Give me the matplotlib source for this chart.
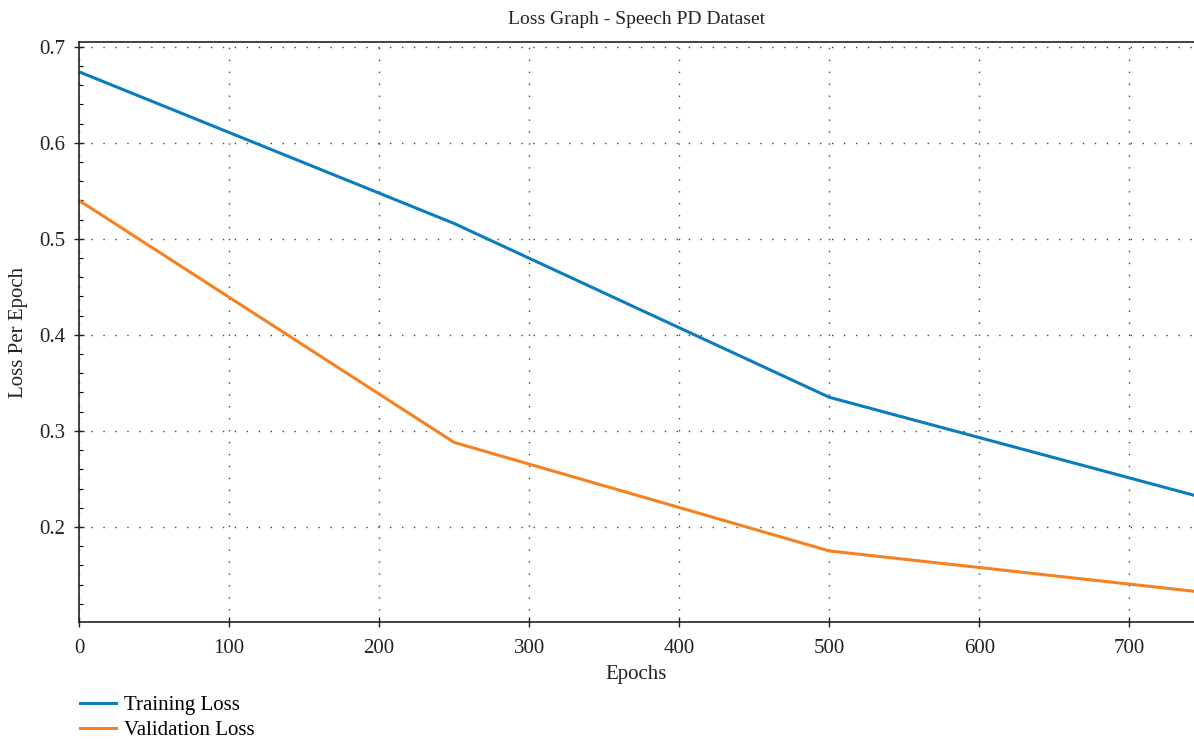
import matplotlib.pyplot as plt
from matplotlib.ticker import MultipleLocator

plt.rcParams['font.family'] = ['Liberation Serif', 'DejaVu Serif']

epochs = [0, 250, 500, 743]
train_loss = [0.674, 0.516, 0.335, 0.233]
val_loss = [0.540, 0.288, 0.175, 0.133]

fig = plt.figure(figsize=(11.94, 7.41), dpi=100)
ax = fig.add_axes([0.0662, 0.1606, 0.9338, 0.7827])

ax.plot(epochs, train_loss, color='#0a7cbf', lw=2.2, label='Training Loss')
ax.plot(epochs, val_loss, color='#f5811f', lw=2.2, label='Validation Loss')

ax.set_xlim(0, 743)
ax.set_ylim(0.101, 0.705)
ax.xaxis.set_major_locator(MultipleLocator(100))
ax.yaxis.set_major_locator(MultipleLocator(0.1))
ax.yaxis.set_minor_locator(MultipleLocator(0.02))

ax.grid(True, which='major', color='#444444', linestyle=(0, (1, 7.6)), lw=1.0)
ax.spines['right'].set_visible(False)
for s in ['left', 'bottom', 'top']:
    ax.spines[s].set_linewidth(1.2)
    ax.spines[s].set_color('#222222')

ax.tick_params(axis='both', which='major', direction='inout', length=7, width=1,
               labelsize=15, colors='#222222')
ax.tick_params(axis='x', which='major', pad=9)
ax.tick_params(axis='y', which='major', pad=6.5)
ax.tick_params(axis='y', which='minor', direction='in', length=3, width=0.8)

ax.set_title('Loss Graph - Speech PD Dataset', fontsize=14, pad=13, color='#222222')
ax.set_xlabel('Epochs', fontsize=15, labelpad=5, color='#222222')
ax.set_ylabel('Loss Per Epoch', fontsize=15, labelpad=8, color='#222222')

fig.legend(loc='upper left', bbox_to_anchor=(0.0597, 0.073), bbox_transform=fig.transFigure,
           frameon=False, fontsize=15, handlelength=1.75, handletextpad=0.4,
           labelspacing=0.28, borderaxespad=0)

fig.savefig('out.png', dpi=100)
